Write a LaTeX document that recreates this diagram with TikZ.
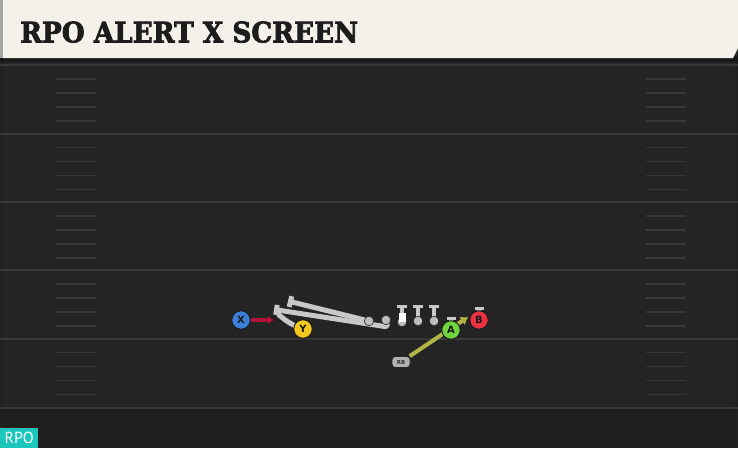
\documentclass[tikz,border=0pt]{standalone}
\usepackage{fontspec}
\setmainfont{DejaVu Sans}
\newfontfamily\titlefont{DejaVu Serif}[BoldFeatures={FakeBold=2.5}]
\newfontfamily\tagfont{PT Sans}
\usetikzlibrary{arrows.meta}
\definecolor{fieldc}{HTML}{242424}
\definecolor{fieldlow}{HTML}{1E1E1E}
\definecolor{yardc}{HTML}{383838}
\definecolor{hashc}{HTML}{383838}
\definecolor{creamc}{HTML}{F4F1EA}
\definecolor{titlec}{HTML}{1C1C1C}
\definecolor{tagc}{HTML}{1BC6BB}
\definecolor{routec}{HTML}{C8C8C8}
\definecolor{olc}{HTML}{BDBDBD}
\definecolor{xblue}{HTML}{3B7FD9}
\definecolor{yyellow}{HTML}{F3C91F}
\definecolor{agreen}{HTML}{6FD43E}
\definecolor{bred}{HTML}{E8323F}
\definecolor{xred}{HTML}{B0123A}
\definecolor{olivec}{HTML}{B3B646}
\tikzset{
  yard/.style={draw=yardc, line width=2pt},
  hashmark/.style={draw=hashc, line width=1.5pt},
  player/.style={circle, minimum size=18.5pt, inner sep=0pt, draw=black!90, line width=0.9pt,
    font=\fontsize{10}{10}\selectfont\bfseries, text=black!90},
  oline/.style={circle, minimum size=9.5pt, inner sep=0pt, fill=olc, draw=black!85, line width=0.6pt},
  route/.style={draw=routec, line width=5pt, line cap=round, line join=round},
  stem/.style={draw=routec, line width=3.2pt},
  rbshape/.style={rectangle, rounded corners=3.5pt, minimum width=18pt, minimum height=11pt, inner sep=0pt,
    fill=black!30, draw=black!85, line width=0.7pt, font=\fontsize{5.5}{5.5}\selectfont\bfseries, text=black!80}
}
\begin{document}
\begin{tikzpicture}[x=1pt,y=-1pt]
\useasboundingbox (0,0) rectangle (738,448);
% field
\fill[fieldc] (0,0) rectangle (738,448);
\fill[fieldlow] (0,409) rectangle (738,448);
\fill[black!10!fieldc] (0,60) rectangle (3,448);
\fill[black!10!fieldc] (735,60) rectangle (738,448);
\foreach \yy in {65,133.5,202,270,338.5,407.5}
  \draw[yard] (0,\yy) -- (738,\yy);
\foreach \yy in {65,133.5,202,270,338.5}
  \foreach \k in {1,2,3,4} {
    \draw[hashmark] (56,\yy+14*\k) -- (96,\yy+14*\k);
    \draw[hashmark] (646,\yy+14*\k) -- (686,\yy+14*\k);
  }
% banner
\fill[black!90] (0,56) rectangle (738,62);
\fill[creamc] (3,0) -- (738,0) -- (738,48) -- (733,58) -- (3,58) -- cycle;
\fill[black!35] (0,0) rectangle (3,58);
\node[anchor=south west, inner sep=0pt, text=titlec] (title) at (20,43)
  {\resizebox{338pt}{21pt}{\titlefont\bfseries RPO ALERT X SCREEN}};
% tag
\draw[draw={rgb,255:red,70;green,20;blue,20}, line width=1pt] (0,427.5) -- (38,427.5);
\node[anchor=south west, fill=tagc, text=white, inner sep=0pt, minimum width=38pt, minimum height=20pt,
  font=\tagfont\fontsize{16}{16}\selectfont] (tag) at (0,448) {RPO};
% coordinates
\coordinate (Tu) at (288,301);
\coordinate (Lh) at (388,327);
\coordinate (Tl) at (274,309.5);
\coordinate (Yj) at (279,315);
\coordinate (Ct) at (402,305);
\coordinate (Gt) at (418,305);
\coordinate (Tt) at (434,305);
\coordinate (At) at (451,317);
\coordinate (Bt) at (479,307);
\coordinate (Xe) at (274,320);
\coordinate (Ae) at (468,317);
% offensive line
\node[oline] (LT) at (369,321) {};
\node[oline] (LG) at (386,320) {};
\node[oline] (C) at (402,322) {};
\node[oline] (G) at (418,321) {};
\node[oline] (T) at (434,321) {};
\node[player, fill=agreen] (A) at (451,330) {A};
\node[player, fill=bred] (B) at (479,320) {B};
\node[player, fill=yyellow] (Y) at (303,329) {Y};
% routes
\draw[route, -{Bar[width=11pt]}] (LT.center) -- (Tu);
\draw[route, rounded corners=3pt, -{Bar[width=10pt]}] (LG.center) -- (Lh) -- (Tl);
\draw[route] (Y.center) to[bend left=10] (Yj);
\draw[stem, -{Bar[width=10pt]}] (C.center) -- (Ct);
\draw[stem, -{Bar[width=10pt]}] (G.center) -- (Gt);
\draw[stem, -{Bar[width=10pt]}] (T.center) -- (Tt);
\draw[stem, -{Bar[width=9pt]}] (A.center) -- (At);
\draw[stem, -{Bar[width=9pt]}] (B.center) -- (Bt);
% redraw line symbols on top
\node[oline] at (LT) {};
\node[oline] at (LG) {};
\node[oline] at (C) {};
\node[oline] at (G) {};
\node[oline] at (T) {};
\fill[white] (398.5,313) rectangle (405.5,322);
% RB and arrows
\node[rbshape] (RB) at (401,362) {RB};
\draw[draw=olivec, line width=4pt, -{Latex[length=7pt,width=10pt]}] (RB) -- (Ae);
\node[player, fill=xblue] (X) at (241,320) {X};
\draw[draw=xred, line width=3.5pt, -{Latex[length=6pt,width=9pt]}] (X) -- (Xe);
% players on top
\node[player, fill=agreen] at (A) {A};
\node[player, fill=bred] at (B) {B};
\node[player, fill=yyellow] at (Y) {Y};
\end{tikzpicture}
\end{document}
